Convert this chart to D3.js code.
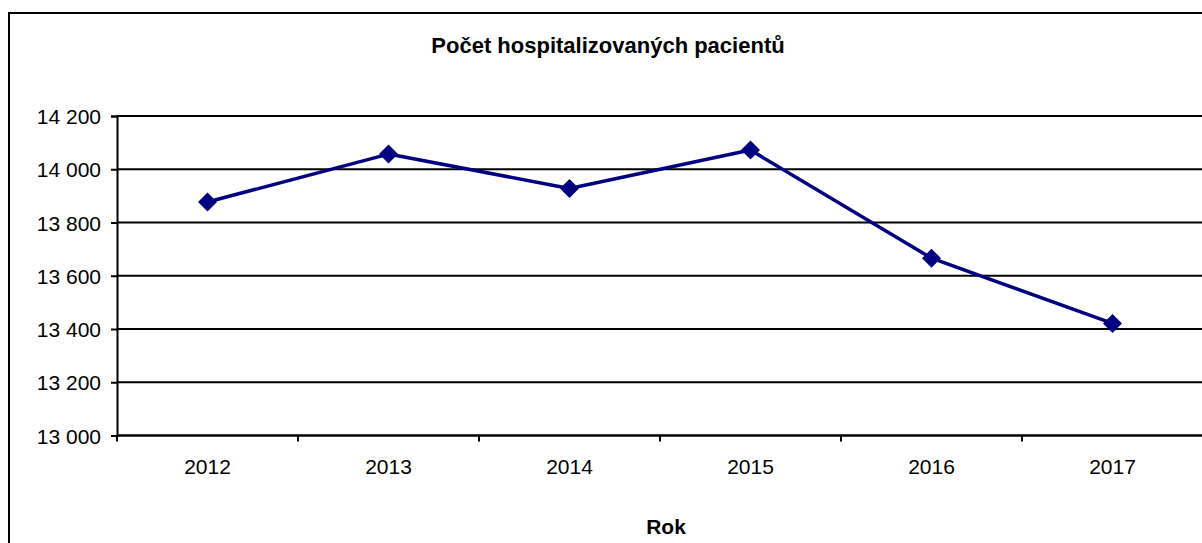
<!DOCTYPE html>
<html>
<head>
<meta charset="utf-8">
<script src="https://cdn.jsdelivr.net/npm/d3@7"></script>
<style>
  body { margin: 0; background: #fff; }
  svg { display: block; font-family: "Liberation Sans", Arial, sans-serif; }
</style>
</head>
<body>
<svg id="chart" width="1202" height="543"></svg>
<script>
// data
var years = ["2012", "2013", "2014", "2015", "2016", "2017"];
var patients = [13877, 14057, 13928, 14072, 13666, 13421];
var yTicks = [13000, 13200, 13400, 13600, 13800, 14000, 14200];

var svg = d3.select("#chart");

// chart border (runs past the right and bottom edge like the original)
svg.append("rect")
    .attr("x", 9).attr("y", 13)
    .attr("width", 1240).attr("height", 580)
    .attr("fill", "#fff")
    .attr("stroke", "#000")
    .attr("stroke-width", 2);

var plotLeft = 117, plotRight = 1203, plotTop = 116, plotBottom = 435.5;

var x = d3.scaleBand().domain(years).range([plotLeft, plotRight]);
var y = d3.scaleLinear().domain([13000, 14200]).range([plotBottom, plotTop]);

// gridlines
svg.append("g").selectAll("line")
    .data(yTicks)
    .enter()
    .append("line")
    .attr("x1", plotLeft).attr("x2", plotRight)
    .attr("y1", d => y(d)).attr("y2", d => y(d))
    .attr("stroke", "#000")
    .attr("stroke-width", 2);

// y axis
var yAxis = svg.append("g")
    .attr("transform", `translate(${plotLeft},0)`)
    .call(d3.axisLeft(y).tickValues(yTicks).tickSize(6).tickPadding(10)
        .tickFormat(d => d3.format(",")(d).replace(",", " ")));
yAxis.select(".domain").attr("stroke", "#000").attr("stroke-width", 2);
yAxis.selectAll(".tick line").attr("stroke", "#000").attr("stroke-width", 2);
yAxis.selectAll("text")
    .attr("fill", "#000")
    .style("font-size", "21px")
    .attr("dy", "0.36em");

// x axis, ticks between categories
var xAxisG = svg.append("g")
    .attr("transform", `translate(0,${plotBottom})`);
xAxisG.append("line")
    .attr("x1", plotLeft).attr("x2", plotRight)
    .attr("stroke", "#000").attr("stroke-width", 2);
xAxisG.selectAll("line.tk")
    .data(years)
    .enter()
    .append("line")
    .attr("class", "tk")
    .attr("x1", d => x(d)).attr("x2", d => x(d))
    .attr("y1", 0).attr("y2", 6)
    .attr("stroke", "#000").attr("stroke-width", 2);
xAxisG.selectAll("text")
    .data(years)
    .enter()
    .append("text")
    .attr("x", d => x(d) + x.bandwidth() / 2)
    .attr("y", 38)
    .attr("text-anchor", "middle")
    .style("font-size", "21px")
    .text(d => d);

// line
var line = d3.line()
    .x((d, i) => x(years[i]) + x.bandwidth() / 2)
    .y(d => y(d));

svg.append("path")
    .datum(patients)
    .attr("d", line)
    .attr("fill", "none")
    .attr("stroke", "#000080")
    .attr("stroke-width", 3.5)
    .attr("stroke-linejoin", "round");

var diamond = d3.symbol().type(d3.symbolDiamond2).size(230);
svg.append("g").selectAll("path")
    .data(patients)
    .enter()
    .append("path")
    .attr("d", diamond)
    .attr("transform", (d, i) => `translate(${x(years[i]) + x.bandwidth() / 2},${y(d)})`)
    .attr("fill", "#000080");

// title and axis title
svg.append("text")
    .attr("x", 608).attr("y", 53)
    .attr("text-anchor", "middle")
    .style("font-size", "22px")
    .style("font-weight", "bold")
    .text("Počet hospitalizovaných pacientů");

svg.append("text")
    .attr("x", 666).attr("y", 534)
    .attr("text-anchor", "middle")
    .style("font-size", "21px")
    .style("font-weight", "bold")
    .text("Rok");
</script>
</body>
</html>
